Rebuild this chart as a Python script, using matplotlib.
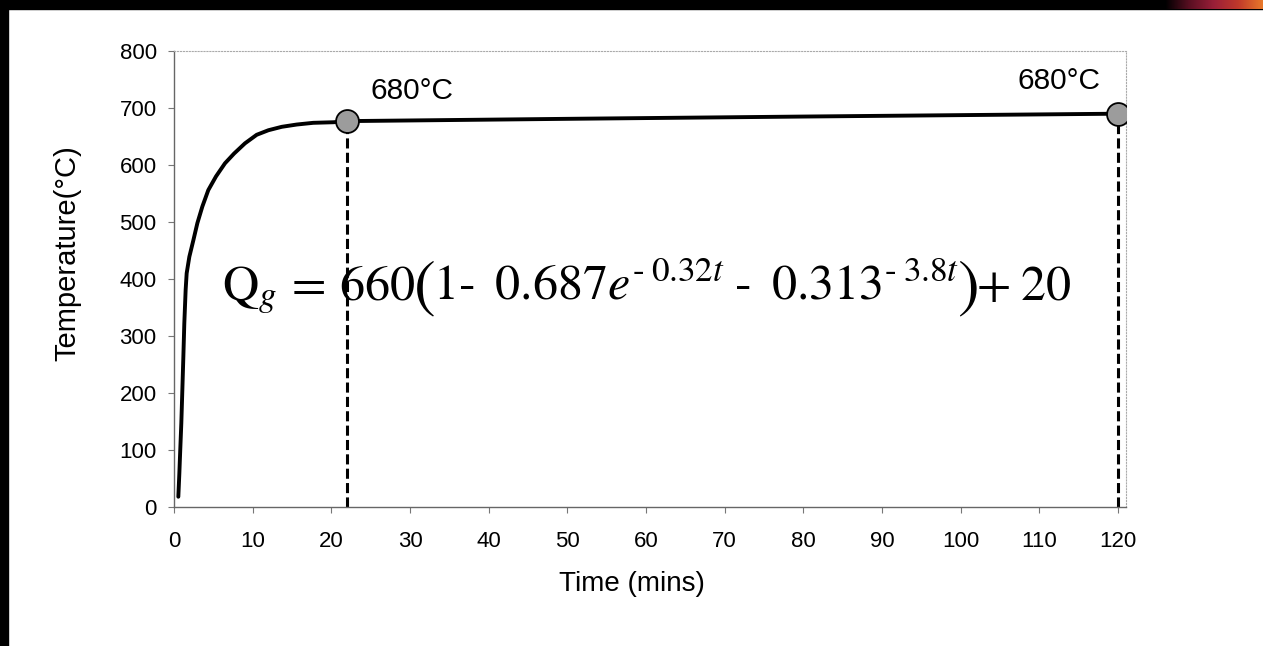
import numpy as np
import matplotlib
matplotlib.use("Agg")
import matplotlib.pyplot as plt
from matplotlib.patches import Rectangle
from matplotlib.colors import LinearSegmentedColormap

# curve (time in mins, temperature in degC)
time_mins = [0.55, 0.68, 0.76, 0.93, 1.06, 1.19, 1.31, 1.48, 1.61, 1.95,
             2.46, 2.97, 3.60, 4.36, 5.34, 6.48, 7.63, 9.02, 10.51, 12.0,
             13.7, 15.6, 17.7, 20.25, 22.0, 50.0, 80.0, 120.0]
temp_c = [18, 59, 88, 147, 205, 264, 322, 381, 410, 439,
          468, 498, 527, 556, 580, 603, 620, 638, 653, 661,
          667, 671, 674, 675, 677, 681, 685, 690]

# marked points with their labels
mark_t = [22.0, 120.0]
mark_temp = [677, 690]
mark_labels = ['680°C', '680°C']

x_ticks = list(range(0, 121, 10))
y_ticks = list(range(0, 801, 100))

W, H = 1263, 646
plt.rcParams['font.family'] = ['Liberation Sans', 'DejaVu Sans']
plt.rcParams['mathtext.fontset'] = 'stix'

fig = plt.figure(figsize=(W / 100, H / 100), dpi=100)
fig.patch.set_facecolor('white')

# axes box in pixel terms of the reference
left, right, top, bottom = 174, 1126, 51, 507
ax = fig.add_axes([left / W, 1 - bottom / H, (right - left) / W, (bottom - top) / H])

ax.plot(time_mins, temp_c, color='black', lw=2.8, solid_capstyle='round',
        solid_joinstyle='round', zorder=3)

for t, v in zip(mark_t, mark_temp):
    ax.plot([t, t], [0, v], color='black', lw=2.2, dashes=(3.3, 1.4), zorder=2)
ax.plot(mark_t, mark_temp, 'o', ms=16.5, mfc='#9c9c9c', mec='black', mew=1.3, zorder=4)

ax.text(25.0, 730, mark_labels[0], fontsize=21.5, ha='left', va='center')
ax.text(117.8, 747, mark_labels[1], fontsize=21.5, ha='right', va='center')

ax.set_xlim(0, 121)
ax.set_ylim(0, 800)
ax.set_xticks(x_ticks)
ax.set_yticks(y_ticks)
ax.tick_params(axis='both', direction='out', length=4.5, width=0.8,
               color='#777777', labelsize=16)
ax.tick_params(axis='x', pad=13)
ax.tick_params(axis='y', pad=8)

for s in ('left', 'bottom'):
    ax.spines[s].set_color('#666666')
    ax.spines[s].set_linewidth(1.0)
for s in ('top', 'right'):
    ax.spines[s].set_color('#aaaaaa')
    ax.spines[s].set_linewidth(0.8)
    ax.spines[s].set_linestyle(':')

ax.set_xlabel('Time (mins)', fontsize=20)
ax.xaxis.set_label_coords((632 - left) / (right - left), -(584 - bottom) / (bottom - top))
ax.xaxis.label.set_va('center')
ax.set_ylabel('Temperature(°C)', fontsize=21)
ax.yaxis.set_label_coords((67 - left) / (right - left), (bottom - 253) / (bottom - top))
ax.yaxis.label.set_va('center')

# equation laid out piece by piece so the brackets can be drawn larger
renderer = fig.canvas.get_renderer()
eq_parts = [
    (r'$\mathrm{Q}_{g}\,=\,660$', 36, 0),
    (r'$($', 47, 5),
    (r'$1\text{-}\;\;0.687e^{\text{-}\;0.32t}\;\text{-}\;\;0.313^{\text{-}\;3.8t}\,$', 36, 0),
    (r'$)$', 47, 5),
    (r'$+\;20$', 36, 0),
]
cursor = 222.0
baseline = 300.0
for txt, fs, drop in eq_parts:
    tobj = fig.text(cursor / W, 1 - (baseline + drop) / H, txt, fontsize=fs,
                    ha='left', va='baseline')
    bb = tobj.get_window_extent(renderer)
    cursor += bb.width - 2

# scan border: black bands at the top and left, coloured corner top right
fig.patches.append(Rectangle((0, 1 - 9 / H), 1, 9 / H, transform=fig.transFigure,
                             color='black', zorder=10))
fig.patches.append(Rectangle((0, 0), 8 / W, 1, transform=fig.transFigure,
                             color='black', zorder=10))
grad = LinearSegmentedColormap.from_list('corner', ['#000000', '#5a0f22', '#9a1f38', '#c0392b', '#e8782a'])
cax = fig.add_axes([1165 / W, 1 - 9 / H, (W - 1165) / W, 9 / H], zorder=11)
cax.imshow(np.linspace(0, 1, 200).reshape(1, -1), cmap=grad, aspect='auto')
cax.axis('off')

fig.savefig('out.png', dpi=100, facecolor='white')
